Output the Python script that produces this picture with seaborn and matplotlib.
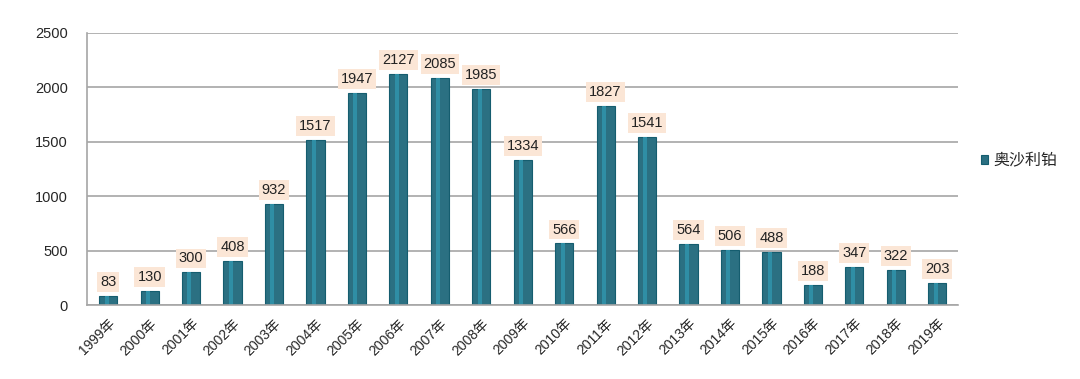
import numpy as np
import pandas as pd
import seaborn as sns
import matplotlib.pyplot as plt
from matplotlib.ticker import FixedLocator

years = [f"{y}年" for y in range(1999, 2020)]
counts = [83, 130, 300, 408, 932, 1517, 1947, 2127, 2085, 1985, 1334,
          566, 1827, 1541, 564, 506, 488, 188, 347, 322, 203]
series_name = "奥沙利铂"

sns.set_style("white")
plt.rcParams['font.family'] = ['Liberation Sans', 'Noto Sans CJK SC', 'DejaVu Sans']

df = pd.DataFrame({"year": years, "count": counts, "drug": series_name})

fig = plt.figure(figsize=(10.8, 3.79), dpi=100)
ax = fig.add_axes([0.081, 0.195, 0.806, 0.718])

bar_color = "#1d7990"
sns.barplot(data=df, x="year", y="count", hue="drug", palette=[bar_color],
            width=0.44, ax=ax, edgecolor="#155d6f", linewidth=0.8)

# lighter strip on each bar to hint at the cylinder shading
for p in ax.patches:
    x, w, h = p.get_x(), p.get_width(), p.get_height()
    ax.bar(x + w * 0.3, h, width=w * 0.22, bottom=0, align="edge",
           color="#2f8ea5", linewidth=0, zorder=p.get_zorder() + 0.1)

for i, v in enumerate(counts):
    ax.annotate(str(v), (i, v), xytext=(0, 5), textcoords="offset points",
                ha="center", va="bottom", fontsize=10.5, color="#222222",
                bbox=dict(boxstyle="square,pad=0.2", fc="#fbe6d6", ec="none"))

ax.set_ylim(0, 2500)
ax.set_xlim(-0.5, len(years) - 0.5)
ax.set_yticks(range(0, 2501, 500))
ax.tick_params(axis="y", labelsize=10.5, length=0, pad=14)
ax.yaxis.grid(True, color="#a6a6a6", linewidth=1.2)
ax.set_axisbelow(True)

ax.set_xticks(range(len(years)))
ax.set_xticklabels(years, rotation=45, ha="right", rotation_mode="anchor", fontsize=10)
ax.tick_params(axis="x", length=0, pad=8)
ax.xaxis.set_minor_locator(FixedLocator(np.arange(-0.5, len(years), 1)))
ax.tick_params(axis="x", which="minor", length=5, color="#a6a6a6", direction="out")

ax.set_xlabel("")
ax.set_ylabel("")
for side in ["top", "right"]:
    ax.spines[side].set_visible(False)
for side in ["left", "bottom"]:
    ax.spines[side].set_color("#a6a6a6")
    ax.spines[side].set_linewidth(1.2)

leg = ax.legend(loc="center left", bbox_to_anchor=(1.01, 0.53), frameon=False,
                fontsize=11.5, handlelength=0.45, handleheight=0.45, handletextpad=0.35)

fig.savefig("out.png", dpi=100, facecolor="white")
